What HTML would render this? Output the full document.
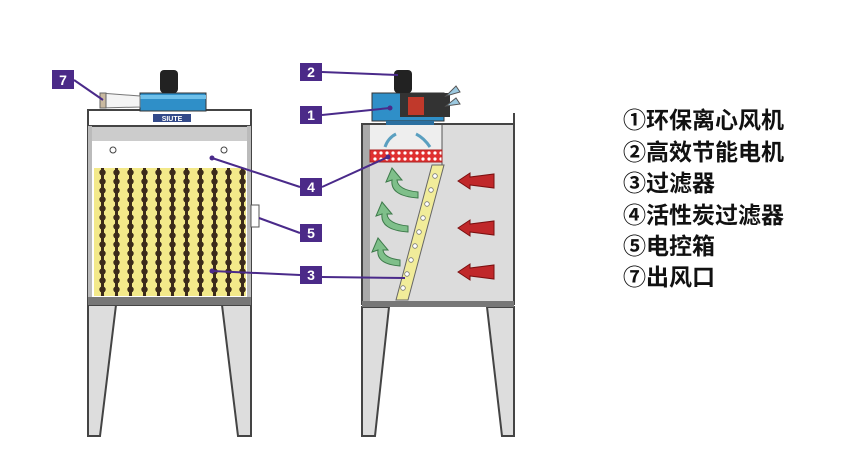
<!DOCTYPE html>
<html><head><meta charset="utf-8"><style>
html,body{margin:0;padding:0;background:#fff;width:850px;height:472px;overflow:hidden}
svg{display:block}
.lg{font-family:"Liberation Sans","Noto Sans CJK SC",sans-serif;font-size:23px;font-weight:bold;fill:#111}
.nb{font-family:"Liberation Sans",sans-serif;font-size:14px;font-weight:bold;fill:#fff}
</style></head><body>
<svg width="850" height="472" viewBox="0 0 850 472" xmlns="http://www.w3.org/2000/svg">
<defs>
<pattern id="dots" x="96" y="168" width="14" height="9" patternUnits="userSpaceOnUse">
<rect width="14" height="9" fill="#f3e98a"/>
<rect x="5" y="0" width="3" height="9" fill="#3b2a1a"/>
<circle cx="6.5" cy="4.5" r="3.2" fill="#3b2a1a"/>
</pattern>
<pattern id="chk" width="6" height="6" patternUnits="userSpaceOnUse">
<rect width="6" height="6" fill="#e03030"/><circle cx="3" cy="3" r="1.6" fill="#fff"/>
</pattern>
</defs>
<polygon points="88,305 116,305 100,436 88,436" fill="#ddd" stroke="#444" stroke-width="2"/>
<polygon points="251,305 222,305 238,436 251,436" fill="#ddd" stroke="#444" stroke-width="2"/>
<rect x="88" y="110" width="163" height="195" fill="#fff" stroke="#444" stroke-width="2"/>
<rect x="88" y="110" width="163" height="16" fill="#fff" stroke="#444" stroke-width="2"/>
<rect x="92" y="127" width="155" height="14" fill="#ccc"/>
<rect x="88" y="126" width="4" height="178" fill="#bbb"/>
<rect x="247" y="126" width="4" height="178" fill="#bbb"/>
<circle cx="113" cy="150" r="3" fill="#fff" stroke="#444"/>
<circle cx="224" cy="150" r="3" fill="#fff" stroke="#444"/>
<rect x="94" y="168" width="152" height="128" fill="url(#dots)"/>
<rect x="88" y="297" width="163" height="8" fill="#777"/>
<rect x="251" y="205" width="8" height="22" fill="#fff" stroke="#555"/>
<rect x="153" y="114" width="38" height="8" fill="#334a8a"/>
<text x="172" y="121" font-family="Liberation Sans" font-size="7" font-weight="bold" fill="#fff" text-anchor="middle">SIUTE</text>
<rect x="140" y="93" width="66" height="18" fill="#2f8fc8" stroke="#333"/>
<rect x="140" y="95" width="66" height="4" fill="#6ec0ea"/>
<rect x="160" y="70" width="18" height="23" rx="4" fill="#222"/>
<polygon points="100,93 140,96 140,107 100,108" fill="#f4f4f4" stroke="#777"/>
<rect x="100" y="93" width="6" height="15" fill="#c9b9a0" stroke="#666"/>
<polygon points="362,307 389,307 375,436 362,436" fill="#ddd" stroke="#444" stroke-width="2"/>
<polygon points="514,307 487,307 502,436 514,436" fill="#ddd" stroke="#444" stroke-width="2"/>
<rect x="362" y="124" width="152" height="180" fill="#dcdcdc" stroke="#444" stroke-width="2"/>
<line x1="514" y1="113" x2="514" y2="124" stroke="#444" stroke-width="2"/>
<rect x="363" y="125" width="7" height="178" fill="#aaa"/>
<rect x="370" y="125" width="72" height="25" fill="#eee"/>
<line x1="442" y1="125" x2="442" y2="165" stroke="#555"/>
<rect x="362" y="301" width="152" height="6" fill="#777"/>
<rect x="370" y="150" width="72" height="12" fill="url(#chk)" stroke="#a22"/>
<polygon points="432,165 444,165 408,300 396,300" fill="#f1ec9a" stroke="#666"/>
<g fill="#fff" stroke="#777" stroke-width="0.8">
<circle cx="435" cy="176" r="2.3"/><circle cx="431" cy="190" r="2.3"/><circle cx="427" cy="204" r="2.3"/>
<circle cx="423" cy="218" r="2.3"/><circle cx="419" cy="232" r="2.3"/><circle cx="415" cy="246" r="2.3"/>
<circle cx="411" cy="260" r="2.3"/><circle cx="407" cy="274" r="2.3"/><circle cx="403" cy="288" r="2.3"/>
</g>
<rect x="372" y="93" width="72" height="28" fill="#2f8fc8" stroke="#333"/>
<rect x="400" y="93" width="50" height="24" fill="#333"/>
<rect x="408" y="97" width="16" height="18" fill="#c0392b"/>
<rect x="386" y="121" width="48" height="4" fill="#2a6fa0"/>
<rect x="394" y="70" width="18" height="23" rx="4" fill="#222"/>
<polygon points="446,96 456,86 460,92" fill="#9cc9e0" stroke="#555"/>
<polygon points="446,106 456,98 460,104" fill="#9cc9e0" stroke="#555"/>
<path d="M385,147 Q388,138 396,134" fill="none" stroke="#5a9fc0" stroke-width="3"/>
<path d="M430,147 Q424,138 416,134" fill="none" stroke="#5a9fc0" stroke-width="3"/>
<g fill="#7fbf8a" stroke="#3d7a4a" stroke-width="1">
<path d="M418,198 Q390,196 392,180 L386,182 L392,168 L402,180 L397,180 Q398,190 418,192 Z"/>
<path d="M408,232 Q380,230 382,214 L376,216 L382,202 L392,214 L387,214 Q388,224 408,226 Z"/>
<path d="M400,266 Q376,264 378,250 L372,252 L378,238 L388,250 L383,250 Q384,258 400,260 Z"/>
</g>
<g fill="#c0282a" stroke="#7a1010" stroke-width="1">
<polygon points="458,181 470,173 470,177 494,174 494,188 470,185 470,189"/>
<polygon points="458,228 470,220 470,224 494,221 494,235 470,232 470,236"/>
<polygon points="458,272 470,264 470,268 494,265 494,279 470,276 470,280"/>
</g>
<g stroke="#4a2a8a" stroke-width="2" fill="none">
<line x1="74" y1="80" x2="103" y2="100"/>
<line x1="322" y1="72" x2="398" y2="75"/>
<line x1="322" y1="115" x2="390" y2="108"/>
<line x1="300" y1="187" x2="212" y2="158"/>
<line x1="322" y1="187" x2="388" y2="157"/>
<line x1="300" y1="233" x2="259" y2="218"/>
<line x1="300" y1="275" x2="212" y2="271"/>
<line x1="322" y1="277" x2="405" y2="278"/>
</g>
<g fill="#4a2a8a"><circle cx="212" cy="158" r="2.5"/><circle cx="212" cy="271" r="2.5"/><circle cx="388" cy="157" r="2.5"/><circle cx="390" cy="108" r="2.5"/></g>
<g fill="#4b2a88">
<rect x="52" y="70" width="22" height="19"/>
<rect x="300" y="63" width="22" height="18"/>
<rect x="300" y="106" width="22" height="18"/>
<rect x="300" y="178" width="22" height="18"/>
<rect x="300" y="224" width="22" height="18"/>
<rect x="300" y="266" width="22" height="18"/>
</g>
<text class="nb" x="63" y="85" text-anchor="middle">7</text>
<text class="nb" x="311" y="77" text-anchor="middle">2</text>
<text class="nb" x="311" y="120" text-anchor="middle">1</text>
<text class="nb" x="311" y="192" text-anchor="middle">4</text>
<text class="nb" x="311" y="238" text-anchor="middle">5</text>
<text class="nb" x="311" y="280" text-anchor="middle">3</text>
<text class="lg" x="623" y="128">①环保离心风机</text>
<text class="lg" x="623" y="160">②高效节能电机</text>
<text class="lg" x="623" y="191">③过滤器</text>
<text class="lg" x="623" y="223">④活性炭过滤器</text>
<text class="lg" x="623" y="254">⑤电控箱</text>
<text class="lg" x="623" y="285">⑦出风口</text>
</svg>
</body></html>
